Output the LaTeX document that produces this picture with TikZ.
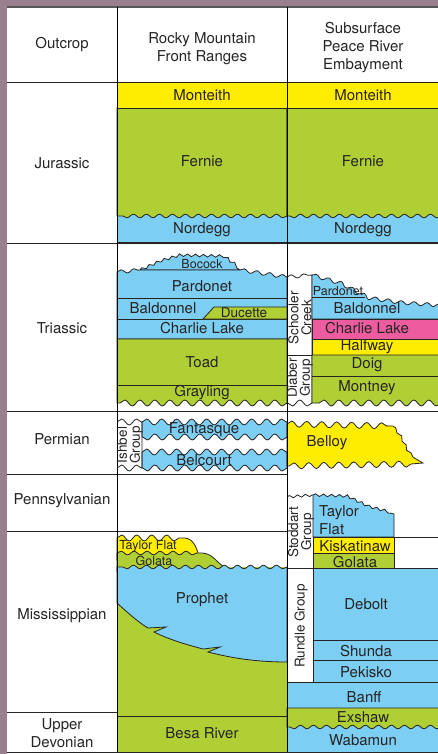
\documentclass[tikz,border=0pt]{standalone}
\usepackage{fontspec}
\setmainfont{TeX Gyre Heros}
\usepackage{xcolor}
\usetikzlibrary{decorations.pathmorphing,positioning}

\definecolor{monYellow}{HTML}{FFED00}
\definecolor{shaleGreen}{HTML}{AFCF35}
\definecolor{carbBlue}{HTML}{7CCFF3}
\definecolor{lakePink}{HTML}{EE5CA0}
\definecolor{frameMauve}{HTML}{9A808E}
\definecolor{ink}{HTML}{262324}

\begin{document}
\begin{tikzpicture}[
  x=1pt, y=-1pt,
  every node/.style={font=\fontsize{15}{18}\selectfont, text=ink, inner sep=0pt},
  unitLabel/.style={align=center},
  smallLabel/.style={font=\fontsize{12.5}{14}\selectfont},
  groupLabel/.style={rotate=90, align=center, font=\fontsize{13.5}{13}\selectfont},
  bed/.style={draw=ink, line width=0.8pt},
  colLine/.style={draw=black, line width=1pt},
  fineWave/.style={decoration={snake, amplitude=1.8pt, segment length=13pt}},
  bigWave/.style={decoration={snake, amplitude=3pt, segment length=15pt}},
  smallWave/.style={decoration={snake, amplitude=1.3pt, segment length=8pt}},
  edgeWave/.style={decoration={snake, amplitude=1pt, segment length=10pt}}
]
  \useasboundingbox (0,0) rectangle (438,754);

  % Frame
  \fill[frameMauve] (0,0) rectangle (438,6);
  \fill[frameMauve] (0,0) rectangle (7,754);
  \draw[draw=black!65, line width=1.6pt] (7,7) -- (441,7);

  % Jurassic, both columns
  \filldraw[bed, fill=carbBlue] (117,108) rectangle (441,242);
  \filldraw[bed, fill=shaleGreen] (117,108) -- (287,108) -- (287,216)
    decorate[fineWave]{-- (117,216)} -- cycle;
  \filldraw[bed, fill=shaleGreen] (287,108) -- (441,108) -- (441,216)
    decorate[fineWave]{-- (287,216)} -- cycle;
  \filldraw[bed, fill=monYellow] (117,82) rectangle (441,108);

  % Triassic, front ranges
  \filldraw[bed, fill=carbBlue] (140,270)
    decorate[smallWave]{-- (158,262) -- (178,256) -- (222,257) -- (240,270)} -- cycle;
  \filldraw[bed, fill=carbBlue] (117,272) decorate[fineWave]{-- (140,270)}
    -- (240,270) decorate[fineWave]{-- (287,277)} -- (287,339) -- (117,339) -- cycle;
  \draw[bed] (117,298) -- (287,298) (117,319) -- (287,319);
  \filldraw[bed, fill=shaleGreen] (203,319) -- (214,307) -- (287,307) -- (287,319) -- cycle;
  \filldraw[bed, fill=shaleGreen] (117,339) -- (287,339) -- (287,403)
    decorate[bigWave]{-- (117,403)} -- cycle;
  \draw[bed] (117,385) -- (287,385);

  % Triassic, subsurface
  \draw[bed] (287,277) decorate[fineWave]{-- (312,275)} -- (312,403);
  \filldraw[bed, fill=carbBlue] (312,275)
    decorate[fineWave]{-- (340,283) -- (365,296) -- (400,301) -- (441,304)}
    -- (441,319) -- (312,319) -- cycle;
  \draw[bed] (312,297) -- (365,297);
  \filldraw[bed, fill=lakePink] (312,319) rectangle (441,339);
  \filldraw[bed, fill=monYellow] (312,339) rectangle (441,355);
  \filldraw[bed, fill=shaleGreen] (312,355) -- (441,355) -- (441,403)
    decorate[bigWave]{-- (312,403)} -- cycle;
  \draw[bed] (312,403) decorate[bigWave]{-- (287,403)};
  \draw[bed] (287,355) -- (312,355) (312,376) -- (441,376);

  % Permian
  \filldraw[bed, fill=carbBlue] (142,422) decorate[bigWave]{-- (287,422)}
    -- (287,437) decorate[bigWave]{-- (142,437)} -- cycle;
  \filldraw[bed, fill=carbBlue] (142,452) decorate[bigWave]{-- (287,452)}
    -- (287,468) decorate[bigWave]{-- (142,468)} -- cycle;
  \draw[bed] (117,422) decorate[bigWave]{-- (142,422)}
    (117,468) decorate[bigWave]{-- (142,468)} (142,422) -- (142,468);
  \filldraw[bed, fill=monYellow] (287,424) decorate[bigWave]{-- (393,426)}
    decorate[edgeWave]{-- (399,434) -- (405,446) -- (413,457)}
    .. controls (417,460) and (420,461) .. (423,463) -- (411,464)
    decorate[bigWave]{-- (287,466)} -- cycle;

  % Mississippian, front ranges
  \fill[shaleGreen] (117,567) rectangle (287,752);
  \filldraw[bed, fill=monYellow] (117,560) -- (117,538)
    decorate[bigWave]{-- (185,538)} .. controls (193,539) and (196,546) .. (199,556)
    -- (199,560) -- cycle;
  \filldraw[bed, fill=shaleGreen] (117,572) -- (117,553)
    decorate[fineWave]{-- (198,553)} .. controls (212,552) and (214,560) .. (224,567)
    -- (224,572) -- cycle;
  \filldraw[bed, fill=carbBlue] (117,567) -- (117,603)
    .. controls (128,613) and (138,622) .. (148,628) -- (166,627) -- (154,632)
    .. controls (170,640) and (188,645) .. (203,649) -- (220,647) -- (208,652)
    .. controls (235,659) and (260,662) .. (287,662)
    -- (287,567) decorate[fineWave]{-- (117,567)} -- cycle;
  \draw[bed] (117,716) -- (287,716);

  % Pennsylvanian and Mississippian, subsurface
  \filldraw[bed, fill=carbBlue] (313,537) -- (313,495)
    decorate[smallWave]{-- (345,496) -- (368,507) -- (394,514)} -- (394,537) -- cycle;
  \filldraw[bed, fill=monYellow] (313,537) rectangle (394,553);
  \filldraw[bed, fill=shaleGreen] (313,553) rectangle (394,568);
  \draw[bed] (287,497) decorate[smallWave]{-- (313,495)};
  \draw[bed] (394,537) -- (441,537) (287,568) -- (441,568);
  \filldraw[bed, fill=carbBlue] (313,568) rectangle (441,682);
  \draw[bed] (313,640) -- (441,640) (313,660) -- (441,660);
  \filldraw[bed, fill=carbBlue] (287,682) rectangle (441,708);
  \filldraw[bed, fill=carbBlue] (287,708) rectangle (441,752);
  \filldraw[bed, fill=shaleGreen] (287,708) -- (441,708) -- (441,727)
    decorate[fineWave]{-- (287,727)} -- cycle;

  % Period boundaries and columns
  \draw[bed] (7,82) -- (441,82) (7,243) -- (441,243) (7,411) -- (441,411)
    (7,474) -- (287,474) (7,531) -- (287,531) (7,712) -- (117,712)
    (7,752) -- (441,752);
  \draw[colLine] (117,7) -- (117,752) (287,7) -- (287,752);

  % Headers and periods
  \node (outcrop) at (62,45) {Outcrop};
  \node[unitLabel] (rockyHead) at (202,49) {Rocky Mountain\\Front Ranges};
  \node[unitLabel] (peaceHead) at (363,48) {Subsurface\\Peace River\\Embayment};
  \node (jurassic) at (62,163) {Jurassic};
  \node (triassic) at (62,328) {Triassic};
  \node (permian) at (62,439) {Permian};
  \node (pennsylvanian) at (62,501) {Pennsylvanian};
  \node (mississippian) at (62,616) {Mississippian};
  \node[unitLabel] (upperDevonian) at (62,733) {Upper\\Devonian};

  % Front ranges units
  \node (monteithL) at (202,95) {Monteith};
  \node (fernieL) at (202,161) {Fernie};
  \node (nordeggL) at (202,230) {Nordegg};
  \node[smallLabel] (bocock) at (202,264) {Bocock};
  \node (pardonetL) at (202,286) {Pardonet};
  \node (baldonnelL) at (163,308) {Baldonnel};
  \node[font=\fontsize{13.5}{15}\selectfont] (ducette) at (244,313) {Ducette};
  \node (charlieL) at (202,328) {Charlie Lake};
  \node (toad) at (202,362) {Toad};
  \node (grayling) at (202,393) {Grayling};
  \node[groupLabel] (ishbel) at (130,445) {Ishbel\\Group};
  \node (fantasque) at (204,430) {Fantasque};
  \node (belcourt) at (204,460) {Belcourt};
  \node[smallLabel] (taylorFlatL) at (148,546) {Taylor Flat};
  \node[smallLabel] (golataL) at (154,561) {Golata};
  \node (prophet) at (202,600) {Prophet};
  \node (besaRiver) at (202,733) {Besa River};

  % Subsurface units
  \node (monteithR) at (363,95) {Monteith};
  \node (fernieR) at (363,161) {Fernie};
  \node (nordeggR) at (363,230) {Nordegg};
  \node[groupLabel] (schooler) at (300,318) {Schooler\\Creek};
  \node[groupLabel] (diaber) at (300,378) {Diaber\\Group};
  \node[smallLabel] (pardonetR) at (338,291) {Pardonet};
  \node (baldonnelR) at (367,308) {Baldonnel};
  \node (charlieR) at (367,328) {Charlie Lake};
  \node (halfway) at (367,347) {Halfway};
  \node (doig) at (367,365) {Doig};
  \node (montney) at (367,388) {Montney};
  \node (belloy) at (327,443) {Belloy};
  \node[groupLabel] (stoddart) at (301,532) {Stoddart\\Group};
  \node[align=left, anchor=west] (taylorFlatR) at (319,520) {Taylor\\Flat};
  \node (kiskatinaw) at (355,546) {Kiskatinaw};
  \node (golataR) at (355,562) {Golata};
  \node[groupLabel] (rundle) at (301,626) {Rundle Group};
  \node (debolt) at (366,604) {Debolt};
  \node (shunda) at (366,651) {Shunda};
  \node (pekisko) at (366,672) {Pekisko};
  \node (banff) at (364,697) {Banff};
  \node (exshaw) at (363,717) {Exshaw};
  \node (wabamun) at (363,740) {Wabamun};
\end{tikzpicture}
\end{document}
